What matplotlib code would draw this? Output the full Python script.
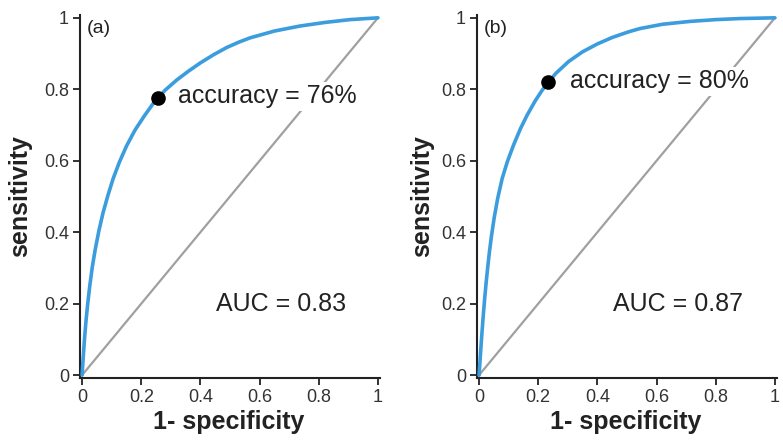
"""Two ROC panels side by side: (a) and (b), each with its operating point
marked and the AUC written in the lower right."""

import matplotlib
matplotlib.use("Agg")
import matplotlib.pyplot as plt

plt.rcParams["font.family"] = ["Liberation Sans", "DejaVu Sans"]

# values
fpr_a = [0, 0.003, 0.008, 0.013, 0.019, 0.026, 0.034, 0.044, 0.057, 0.071,
         0.088, 0.105, 0.126, 0.15, 0.179, 0.21, 0.241, 0.256, 0.28, 0.32,
         0.36, 0.4, 0.445, 0.489, 0.53, 0.568, 0.65, 0.736, 0.82, 0.905, 1]
tpr_a = [0, 0.04, 0.1, 0.15, 0.2, 0.25, 0.3, 0.35, 0.405, 0.455,
         0.505, 0.55, 0.596, 0.641, 0.686, 0.725, 0.761, 0.775, 0.797, 0.826,
         0.851, 0.874, 0.897, 0.917, 0.932, 0.944, 0.963, 0.977, 0.987, 0.995, 1]

fpr_b = [0, 0.004, 0.009, 0.014, 0.019, 0.024, 0.029, 0.035, 0.042, 0.051,
         0.063, 0.078, 0.095, 0.117, 0.14, 0.162, 0.19, 0.213, 0.232, 0.26,
         0.303, 0.35, 0.4, 0.45, 0.506, 0.544, 0.62, 0.713, 0.8, 0.882, 1]
tpr_b = [0, 0.05, 0.11, 0.165, 0.215, 0.26, 0.3, 0.345, 0.39, 0.44,
         0.495, 0.55, 0.596, 0.645, 0.69, 0.727, 0.768, 0.797, 0.818, 0.845,
         0.878, 0.905, 0.927, 0.945, 0.961, 0.97, 0.982, 0.99, 0.995, 0.998, 1]

op_a = (0.256, 0.775)
op_b = (0.232, 0.82)
accuracy = ["accuracy = 76%", "accuracy = 80%"]
auc = ["AUC = 0.83", "AUC = 0.87"]
panel_tags = ["(a)", "(b)"]
ticks = [0, 0.2, 0.4, 0.6, 0.8, 1]
tick_labels = ["0", "0.2", "0.4", "0.6", "0.8", "1"]

BLUE = "#3b9ddd"
GRAY = "#a0a0a0"
INK = "#222222"

fig = plt.figure(figsize=(7.83, 4.47), dpi=100)
axes = [fig.add_axes([0.1022, 0.1544, 0.3831, 0.8121]),
        fig.add_axes([0.6092, 0.1544, 0.3831, 0.8121])]

panels = [(fpr_a, tpr_a, op_a, (0.324, 0.78)),
          (fpr_b, tpr_b, op_b, (0.307, 0.822))]

for i, (ax, (fpr, tpr, op, acc_xy)) in enumerate(zip(axes, panels)):
    ax.plot([0, 1], [0, 1], color=GRAY, lw=1.6, zorder=1, clip_on=False)
    ax.plot(fpr, tpr, color=BLUE, lw=2.6, zorder=3, clip_on=False,
            solid_capstyle="round", solid_joinstyle="round")
    ax.plot(*op, "o", color="black", ms=9.5, zorder=4, clip_on=False)

    ax.text(acc_xy[0], acc_xy[1], accuracy[i], fontsize=18, color=INK,
            ha="left", va="center", zorder=2,
            bbox=dict(facecolor="white", edgecolor="none", pad=2))
    ax.text(0.453, 0.2, auc[i], fontsize=18, color=INK, ha="left", va="center")
    ax.text(0.023, 0.964, panel_tags[i], fontsize=14, color=INK,
            ha="left", va="center", transform=ax.transAxes)

    ax.set_xlim(-0.007, 1.007)
    ax.set_ylim(-0.008, 1.008)
    ax.set_xticks(ticks)
    ax.set_xticklabels(tick_labels)
    ax.set_yticks(ticks)
    ax.set_yticklabels(tick_labels)
    ax.tick_params(labelsize=13, labelcolor="#333333", color=INK, length=5,
                   width=1.3, pad=3, direction="out")

    for side in ("top", "right"):
        ax.spines[side].set_visible(False)
    for side in ("left", "bottom"):
        ax.spines[side].set_linewidth(1.5)
        ax.spines[side].set_color(INK)

    ax.set_xlabel("1- specificity", fontsize=18, fontweight="bold", color=INK)
    ax.set_ylabel("sensitivity", fontsize=18, fontweight="bold", color=INK)
    ax.xaxis.label.set_va("center")
    ax.yaxis.label.set_va("center")
    ax.xaxis.set_label_coords(0.497, -0.12)
    ax.yaxis.set_label_coords(-0.2 if i == 0 else -0.184, 0.5)

fig.savefig("out.png", dpi=100)
